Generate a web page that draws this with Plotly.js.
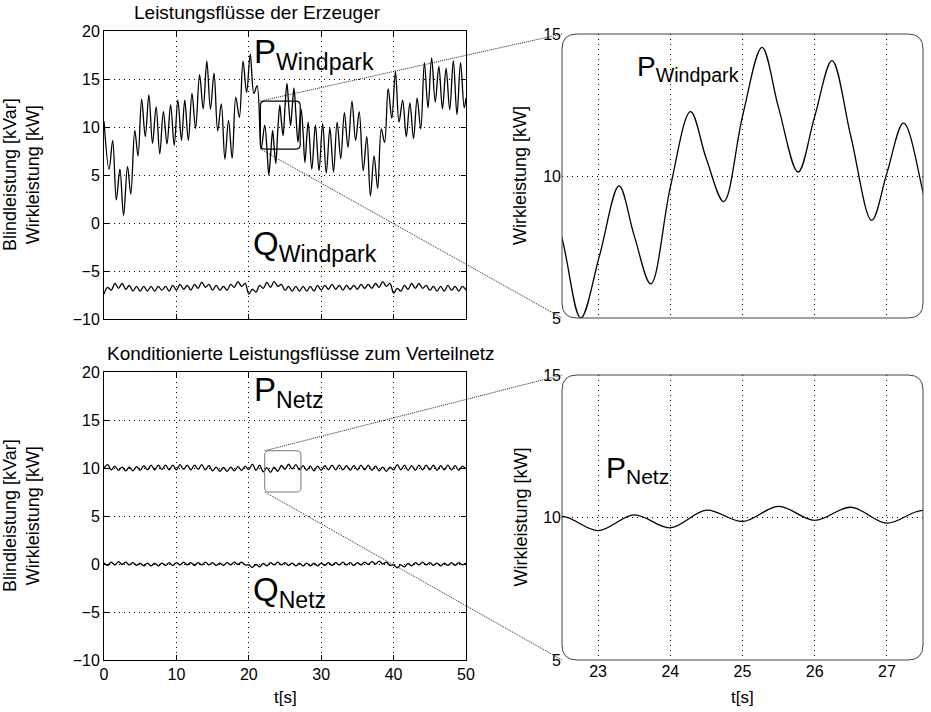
<!DOCTYPE html>
<html><head><meta charset="utf-8">
<script src="https://cdn.plot.ly/plotly-3.0.1.min.js"></script>
<style>html,body{margin:0;padding:0;background:#fff}#chart{width:931px;height:712px}</style>
</head><body><div id="chart"></div>
<script>
// ---------- data ----------
const pwT = [0.0,0.7,1.2,1.7,2.2,2.7,3.25,3.7,4.25,4.7,5.2,5.7,6.2,6.7,7.2,7.7,8.2,8.7,9.2,9.7,
  10.2,10.7,11.15,11.65,12.15,12.65,13.2,13.7,14.2,14.7,15.2,15.7,16.2,16.7,17.2,17.7,18.2,18.7,19.2,19.7,
  20.2,20.7,21.15,21.7,22.2,22.5,22.76,23.02,23.29,23.5,23.73,24.0,24.28,24.5,24.74,25.0,25.27,25.5,25.77,26.0,
  26.24,26.5,26.79,27.0,27.23,27.51,27.75,28.2,28.7,29.2,29.7,30.2,30.7,31.2,31.7,32.2,32.7,33.2,33.7,34.25,
  34.75,35.25,35.8,36.3,36.8,37.3,37.8,38.3,38.75,39.25,39.75,40.25,40.75,41.25,41.75,42.25,42.75,43.25,43.75,44.25,
  44.75,45.25,45.75,46.25,46.75,47.25,47.75,48.25,48.75,49.25,49.75,50.0];
const pwV = [10.6,5.6,8.6,2.4,5.6,0.8,5.9,3.0,9.65,7.0,12.9,9.0,13.35,8.3,12.1,7.2,11.6,8.25,12.3,8.1,
  12.8,8.6,12.8,8.6,13.5,9.85,15.45,11.9,16.85,11.85,15.6,9.6,12.4,6.65,10.7,6.75,13.1,11.0,16.85,13.6,
  17.6,13.5,14.3,7.7,10.2,7.8,5.0,7.2,9.65,7.9,6.2,9.6,12.27,10.6,9.1,12.1,14.53,12.4,10.14,12.1,
  14.06,11.4,8.44,10.1,11.86,9.32,6.3,10.5,5.6,10.2,5.45,10.35,5.2,9.9,5.3,10.5,6.7,11.5,7.9,12.7,
  8.6,11.6,5.45,9.0,2.8,7.0,3.6,9.8,8.4,14.0,10.9,15.8,10.5,12.8,9.0,12.5,8.8,13.0,9.8,16.7,
  12.0,17.2,12.6,16.3,11.9,16.1,11.8,16.9,11.3,16.7,12.0,13.0];

const tHalf = [0,0.5,1,1.5,2,2.5,3,3.5,4,4.5,5,5.5,6,6.5,7,7.5,8,8.5,9,9.5,
  10,10.5,11,11.5,12,12.5,13,13.5,14,14.5,15,15.5,16,16.5,17,17.5,18,18.5,19,19.5,
  20,20.5,21,21.5,22,22.5,23,23.5,24,24.5,25,25.5,26,26.5,27,27.5,28,28.5,29,29.5,
  30,30.5,31,31.5,32,32.5,33,33.5,34,34.5,35,35.5,36,36.5,37,37.5,38,38.5,39,39.5,
  40,40.5,41,41.5,42,42.5,43,43.5,44,44.5,45,45.5,46,46.5,47,47.5,48,48.5,49,49.5,50];
const qwV = [-7.4,-6.7,-7.0,-6.3,-6.8,-6.3,-6.9,-6.5,-7.1,-6.6,-7.1,-6.6,-7.1,-6.6,-7.1,-6.6,-7.0,-6.6,-7.1,-6.5,
  -7.0,-6.4,-6.9,-6.5,-7.0,-6.4,-6.8,-6.15,-6.7,-6.4,-7.0,-6.5,-7.0,-6.6,-7.0,-6.4,-6.7,-6.1,-6.6,-6.3,
  -7.4,-6.9,-7.2,-6.5,-6.8,-6.2,-6.7,-6.1,-6.6,-6.4,-7.0,-6.6,-7.1,-6.6,-7.1,-6.6,-7.1,-6.6,-7.1,-6.5,
  -7.0,-6.5,-6.9,-6.4,-6.9,-6.5,-7.0,-6.5,-6.9,-6.5,-6.9,-6.4,-6.8,-6.4,-6.8,-6.3,-6.7,-6.1,-6.6,-6.3,
  -7.3,-6.8,-7.1,-6.5,-6.9,-6.3,-6.8,-6.3,-6.8,-6.5,-7.0,-6.6,-7.1,-6.6,-7.1,-6.5,-7.0,-6.6,-7.1,-6.6,-7.0];
const pnV = [10.0,10.35,9.8,10.2,9.75,10.1,9.7,10.1,9.7,10.15,9.75,10.25,9.8,10.3,9.8,10.3,9.85,10.3,9.8,10.3,
  9.8,10.35,9.85,10.3,9.8,10.3,9.85,10.35,9.8,10.25,9.7,10.1,9.65,10.05,9.65,10.1,9.7,10.15,9.75,10.2,
  9.85,10.4,9.75,10.3,9.6,10.04,9.54,10.09,9.64,10.26,9.86,10.39,9.9,10.36,9.8,10.25,9.75,10.2,9.7,10.2,
  9.75,10.25,9.8,10.3,9.8,10.3,9.8,10.25,9.75,10.25,9.8,10.3,9.8,10.3,9.75,10.2,9.7,10.1,9.65,10.1,
  9.8,10.35,9.8,10.3,9.75,10.25,9.75,10.3,9.8,10.3,9.8,10.3,9.75,10.25,9.8,10.3,9.8,10.25,9.75,10.2,9.9];
const qnV = [0.1,-0.15,0.2,-0.1,0.25,-0.05,0.2,-0.1,0.15,-0.15,0.1,-0.2,0.1,-0.2,0.1,-0.2,0.1,-0.15,0.15,-0.15,
  0.15,-0.1,0.2,-0.1,0.15,-0.15,0.15,-0.1,0.2,-0.1,0.15,-0.15,0.1,-0.15,0.15,-0.1,0.2,-0.05,0.2,-0.1,
  -0.1,-0.35,-0.05,-0.3,0.05,-0.2,0.15,-0.1,0.2,-0.1,0.15,-0.15,0.1,-0.2,0.1,-0.2,0.1,-0.2,0.1,-0.2,
  0.1,-0.15,0.15,-0.15,0.15,-0.1,0.2,-0.1,0.15,-0.15,0.15,-0.1,0.2,-0.05,0.25,0.0,0.3,0.0,0.2,-0.15,
  -0.1,-0.4,-0.1,-0.3,0.05,-0.2,0.15,-0.1,0.2,-0.1,0.15,-0.15,0.1,-0.2,0.1,-0.15,0.15,-0.15,0.15,-0.1,0.1];

const xTicksLeft = [0,10,20,30,40,50];
const yTicksLeft = [-10,-5,0,5,10,15,20];
const xTicksRight = [23,24,25,26,27];
const yTicksRight = [5,10,15];
const zoomRange = [22.5,27.5];

// ---------- geometry (pixels) ----------
const W = 931, H = 712;
const G = {L:[104,466], R:[562,923], TL:[31,319], TR:[34,318], BL:[372,660], BR:[375,660]};
const px = v => v / W;
const py = v => 1 - v / H;
const dX = a => [px(a[0]), px(a[1])];
const dY = a => [py(a[1]), py(a[0])];
const FONT = 'Liberation Sans, Arial, sans-serif';

function leftAxisX(dom, showLabels) {
  return {domain: dom, range: [0,50], tickvals: xTicksLeft, showticklabels: showLabels,
    showgrid: true, griddash: '1px,4px', gridcolor: '#000', gridwidth: 1, zeroline: false,
    showline: true, linecolor: '#000', linewidth: 1, mirror: 'ticks', ticks: 'inside', ticklen: 5,
    tickcolor: '#000', tickfont: {family: FONT, size: 16, color: '#000'}, fixedrange: true};
}
function leftAxisY(dom, anchor) {
  return {domain: dom, range: [-10,20], tickvals: yTicksLeft, anchor: anchor,
    showgrid: true, griddash: '1px,4px', gridcolor: '#000', gridwidth: 1, zeroline: false,
    showline: true, linecolor: '#000', linewidth: 1, mirror: 'ticks', ticks: 'inside', ticklen: 5,
    tickcolor: '#000', tickfont: {family: FONT, size: 16, color: '#000'}, fixedrange: true};
}
function rightAxisX(dom, anchor, showLabels) {
  return {domain: dom, range: zoomRange, tickvals: xTicksRight, anchor: anchor, showticklabels: showLabels,
    showgrid: true, griddash: '1px,4px', gridcolor: '#000', gridwidth: 1, zeroline: false,
    showline: false, ticks: '', tickfont: {family: FONT, size: 16, color: '#000'}, fixedrange: true};
}
function rightAxisY(dom, anchor) {
  return {domain: dom, range: [5,15], tickvals: yTicksRight, anchor: anchor,
    showgrid: true, griddash: '1px,4px', gridcolor: '#000', gridwidth: 1, zeroline: false,
    showline: false, ticks: '', tickfont: {family: FONT, size: 16, color: '#000'}, fixedrange: true};
}

const line = {color: '#000', width: 1.3, shape: 'spline', smoothing: 1};
const traces = [
  {x: pwT, y: pwV, xaxis: 'x', yaxis: 'y', mode: 'lines', line: line, hoverinfo: 'skip', name: 'P Windpark'},
  {x: tHalf, y: qwV, xaxis: 'x', yaxis: 'y', mode: 'lines', line: line, hoverinfo: 'skip', name: 'Q Windpark'},
  {x: pwT, y: pwV, xaxis: 'x2', yaxis: 'y2', mode: 'lines', line: line, hoverinfo: 'skip', name: 'P Windpark (Zoom)'},
  {x: tHalf, y: pnV, xaxis: 'x3', yaxis: 'y3', mode: 'lines', line: line, hoverinfo: 'skip', name: 'P Netz'},
  {x: tHalf, y: qnV, xaxis: 'x3', yaxis: 'y3', mode: 'lines', line: line, hoverinfo: 'skip', name: 'Q Netz'},
  {x: tHalf, y: pnV, xaxis: 'x4', yaxis: 'y4', mode: 'lines', line: line, hoverinfo: 'skip', name: 'P Netz (Zoom)'}
];

function rr(x0, y0, x1, y1, rx, ry) { // y0 bottom, y1 top
  return `M ${x0+rx},${y0} L ${x1-rx},${y0} Q ${x1},${y0} ${x1},${y0+ry} L ${x1},${y1-ry} Q ${x1},${y1} ${x1-rx},${y1} ` +
         `L ${x0+rx},${y1} Q ${x0},${y1} ${x0},${y1-ry} L ${x0},${y0+ry} Q ${x0},${y0} ${x0+rx},${y0} Z`;
}
function lpX(t) { return px(G.L[0] + (t/50)*(G.L[1]-G.L[0])); }
function lpY(v, rows) { return py(rows[1] - ((v+10)/30)*(rows[1]-rows[0])); }

const rectTop = {t0: 21.6, t1: 27.1, v0: 7.7, v1: 12.7};
const rectBot = {t0: 22.2, t1: 27.2, v0: 7.5, v1: 11.8};
const shapes = [];
[[G.R, G.TR], [G.R, G.BR]].forEach(([xr, yr]) => {
  shapes.push({type: 'path', xref: 'paper', yref: 'paper', layer: 'above',
    path: rr(px(xr[0]), py(yr[1]), px(xr[1]), py(yr[0]), 15/W, 15/H),
    line: {color: '#444', width: 1}});
});
shapes.push({type: 'path', xref: 'x', yref: 'y', layer: 'above',
  path: rr(rectTop.t0, rectTop.v0, rectTop.t1, rectTop.v1, 0.6, 0.45), line: {color: '#000', width: 1.2}});
shapes.push({type: 'path', xref: 'x3', yref: 'y3', layer: 'above',
  path: rr(rectBot.t0, rectBot.v0, rectBot.t1, rectBot.v1, 0.6, 0.45), line: {color: '#777', width: 1}});
function zl(t, v, rows, X, Y) {
  shapes.push({type: 'line', xref: 'paper', yref: 'paper', x0: lpX(t), y0: lpY(v, rows), x1: px(X), y1: py(Y),
    line: {color: '#222', width: 1, dash: '1px,1px'}});
}
zl(rectTop.t0, rectTop.v1, G.TL, G.R[0], G.TR[0]);
zl(rectTop.t0, rectTop.v0, G.TL, G.R[0], G.TR[1]);
zl(rectBot.t0, rectBot.v1, G.BL, G.R[0], G.BR[0]);
zl(rectBot.t0, rectBot.v0, G.BL, G.R[0], G.BR[1]);

function ann(text, x, y, size, o) {
  return Object.assign({text: text, xref: 'paper', yref: 'paper', x: px(x), y: py(y), showarrow: false,
    font: {family: FONT, size: size, color: '#000'}, xanchor: 'center', yanchor: 'middle', borderpad: 0}, o || {});
}
const cL = (G.L[0]+G.L[1])/2, cR = (G.R[0]+G.R[1])/2;
const annotations = [
  ann('Leistungsflüsse der Erzeuger', 133, 12, 19, {xanchor: 'left'}),
  ann('Konditionierte Leistungsflüsse zum Verteilnetz', 106, 353, 19, {xanchor: 'left'}),
  ann('Blindleistung [kVar]<br>Wirkleistung [kW]', 21, (G.TL[0]+G.TL[1])/2, 18, {textangle: -90}),
  ann('Blindleistung [kVar]<br>Wirkleistung [kW]', 21, (G.BL[0]+G.BL[1])/2, 18, {textangle: -90}),
  ann('Wirkleistung [kW]', 520, (G.TR[0]+G.TR[1])/2, 18, {textangle: -90}),
  ann('Wirkleistung [kW]', 520, (G.BR[0]+G.BR[1])/2, 18, {textangle: -90}),
  ann('t[s]', cL, 697, 17),
  ann('t[s]', cR, 697, 17),
  ann('P<sub>Windpark</sub>', 253, 32, 33, {xanchor: 'left', yanchor: 'top'}),
  ann('Q<sub>Windpark</sub>', 252, 224, 33, {xanchor: 'left', yanchor: 'top'}),
  ann('P<sub>Netz</sub>', 253, 370, 33, {xanchor: 'left', yanchor: 'top'}),
  ann('Q<sub>Netz</sub>', 252, 570, 33, {xanchor: 'left', yanchor: 'top'}),
  ann('P<sub>Windpark</sub>', 636, 50, 28, {xanchor: 'left', yanchor: 'top'}),
  ann('P<sub>Netz</sub>', 605, 450, 30, {xanchor: 'left', yanchor: 'top'})
];

const layout = {
  width: W, height: H, margin: {l: 0, r: 0, t: 0, b: 0}, showlegend: false,
  paper_bgcolor: '#fff', plot_bgcolor: '#fff', font: {family: FONT, size: 16, color: '#000'},
  xaxis: Object.assign(leftAxisX(dX(G.L), false), {anchor: 'y'}),
  yaxis: leftAxisY(dY(G.TL), 'x'),
  xaxis2: rightAxisX(dX(G.R), 'y2', false),
  yaxis2: rightAxisY(dY(G.TR), 'x2'),
  xaxis3: Object.assign(leftAxisX(dX(G.L), true), {anchor: 'y3'}),
  yaxis3: leftAxisY(dY(G.BL), 'x3'),
  xaxis4: rightAxisX(dX(G.R), 'y4', true),
  yaxis4: rightAxisY(dY(G.BR), 'x4'),
  shapes: shapes, annotations: annotations
};
Plotly.newPlot('chart', traces, layout, {displayModeBar: false, staticPlot: true});
</script></body></html>
